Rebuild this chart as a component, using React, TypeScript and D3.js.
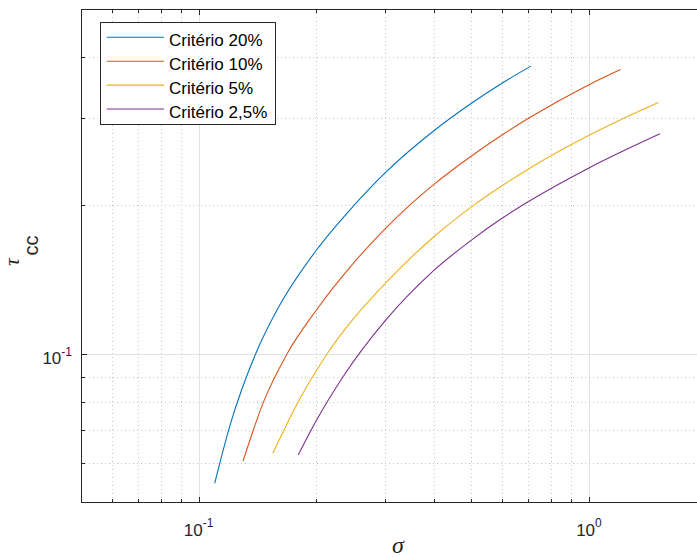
import { useEffect, useRef } from 'react';
import * as d3 from 'd3';

// σ / τcc pontos (eixos log-log)
const seriesNames = ['Critério 20%', 'Critério 10%', 'Critério 5%', 'Critério 2,5%'];
const seriesColors = ['#0072BD', '#D95319', '#EDB120', '#7E2F8E'];

const sigma20 = [0.110, 0.1206, 0.140, 0.160, 0.200, 0.2487, 0.300, 0.400, 0.500, 0.600, 0.710];
const tau20 = [0.0547, 0.072, 0.100, 0.124, 0.162, 0.199, 0.2325, 0.283, 0.322, 0.354, 0.383];

const sigma10 = [0.130, 0.1462, 0.1685, 0.200, 0.250, 0.300, 0.348, 0.400, 0.500, 0.600, 0.700, 1.000, 1.205];
const tau10 = [0.0606, 0.0794, 0.100, 0.1225, 0.1531, 0.179, 0.2004, 0.2203, 0.2518, 0.278, 0.3002, 0.3513, 0.3771];

const sigma5 = [0.155, 0.1823, 0.2133, 0.250, 0.300, 0.400, 0.505, 0.600, 0.700, 1.000, 1.220, 1.506];
const tau5 = [0.0629, 0.0815, 0.100, 0.1182, 0.1387, 0.1726, 0.1998, 0.2194, 0.237, 0.2773, 0.2996, 0.3233];

const sigma25 = [0.180, 0.200, 0.2354, 0.300, 0.400, 0.500, 0.600, 0.700, 1.000, 1.520];
const tau25 = [0.0624, 0.0731, 0.0903, 0.1165, 0.1475, 0.1701, 0.1885, 0.2036, 0.2382, 0.2793];

const sigmaSeries = [sigma20, sigma10, sigma5, sigma25];
const tauSeries = [tau20, tau10, tau5, tau25];

const xLimits = [0.05, 2];
const yLimits = [0.05, 0.5];

function Chart() {
  const svgRef = useRef<SVGSVGElement>(null);

  useEffect(() => {
    const width = 697;
    const height = 557;
    const left = 81;
    const right = 706.5;
    const top = 9;
    const bottom = 502.5;
    const font = '"Liberation Sans", Arial, Helvetica, sans-serif';
    const axisColor = '#262626';

    const svg = d3.select(svgRef.current)
      .attr('width', width)
      .attr('height', height);
    svg.selectAll('*').remove();

    const x = d3.scaleLog().domain(xLimits).range([left, right]);
    const y = d3.scaleLog().domain(yLimits).range([bottom, top]);

    const isMajor = (v: number) => Math.abs(Math.log10(v) - Math.round(Math.log10(v))) < 1e-9;
    const inside = (v: number, lim: number[]) => v > lim[0] * 1.0001 && v < lim[1] * 0.9999;

    const xTicks = x.ticks().filter(v => inside(v, xLimits));
    const yTicks = y.ticks().filter(v => inside(v, yLimits));

    svg.append('rect')
      .attr('x', 0).attr('y', 0)
      .attr('width', width).attr('height', height)
      .attr('fill', '#ffffff');

    // grade
    const grid = svg.append('g').attr('shape-rendering', 'crispEdges');
    grid.selectAll('.vgrid')
      .data(xTicks)
      .enter().append('line')
      .attr('x1', d => Math.round(x(d)) + 0.5)
      .attr('x2', d => Math.round(x(d)) + 0.5)
      .attr('y1', top)
      .attr('y2', bottom)
      .attr('stroke', d => isMajor(d) ? '#e3e3e3' : '#c4c4c4')
      .attr('stroke-width', 1)
      .attr('stroke-dasharray', d => isMajor(d) ? null : '1,3');
    grid.selectAll('.hgrid')
      .data(yTicks)
      .enter().append('line')
      .attr('y1', d => Math.round(y(d)) + 0.5)
      .attr('y2', d => Math.round(y(d)) + 0.5)
      .attr('x1', left)
      .attr('x2', right)
      .attr('stroke', d => isMajor(d) ? '#e3e3e3' : '#c4c4c4')
      .attr('stroke-width', 1)
      .attr('stroke-dasharray', d => isMajor(d) ? null : '1,3');

    // curvas
    const line = d3.line<[number, number]>()
      .x(d => x(d[0]))
      .y(d => y(d[1]))
      .curve(d3.curveMonotoneX);

    sigmaSeries.forEach((sig, i) => {
      const pts = sig.map((s, j) => [s, tauSeries[i][j]] as [number, number]);
      svg.append('path')
        .datum(pts)
        .attr('d', line)
        .attr('fill', 'none')
        .attr('stroke', seriesColors[i])
        .attr('stroke-width', 1.1);
    });

    // eixos (caixa + ticks para dentro)
    const axes = svg.append('g').attr('shape-rendering', 'crispEdges');
    axes.append('line').attr('x1', left).attr('x2', right).attr('y1', bottom).attr('y2', bottom)
      .attr('stroke', axisColor);
    axes.append('line').attr('x1', left).attr('x2', right).attr('y1', top).attr('y2', top)
      .attr('stroke', axisColor);
    axes.append('line').attr('x1', left).attr('x2', left).attr('y1', top).attr('y2', bottom)
      .attr('stroke', axisColor);
    axes.append('line').attr('x1', right).attr('x2', right).attr('y1', top).attr('y2', bottom)
      .attr('stroke', axisColor);

    const majorLen = 6;
    const minorLen = 3.5;
    xTicks.forEach(v => {
      const px = Math.round(x(v)) + 0.5;
      const len = isMajor(v) ? majorLen : minorLen;
      axes.append('line').attr('x1', px).attr('x2', px).attr('y1', bottom).attr('y2', bottom - len)
        .attr('stroke', axisColor);
      axes.append('line').attr('x1', px).attr('x2', px).attr('y1', top).attr('y2', top + len)
        .attr('stroke', axisColor);
    });
    yTicks.forEach(v => {
      const py = Math.round(y(v)) + 0.5;
      const len = isMajor(v) ? majorLen : minorLen;
      axes.append('line').attr('x1', left).attr('x2', left + len).attr('y1', py).attr('y2', py)
        .attr('stroke', axisColor);
      axes.append('line').attr('x1', right).attr('x2', right - len).attr('y1', py).attr('y2', py)
        .attr('stroke', axisColor);
    });

    // rótulos 10^n
    const majorX = xTicks.filter(isMajor);
    majorX.forEach(v => {
      const t = svg.append('text')
        .attr('x', x(v))
        .attr('y', bottom + 33.5)
        .attr('text-anchor', 'middle')
        .attr('font-family', font)
        .attr('font-size', 17)
        .attr('fill', axisColor);
      t.append('tspan').text('10');
      t.append('tspan').attr('dy', -9).attr('font-size', 12).text(String(Math.round(Math.log10(v))));
    });
    const majorY = yTicks.filter(isMajor);
    majorY.forEach(v => {
      const t = svg.append('text')
        .attr('x', 72)
        .attr('y', y(v) + 10)
        .attr('text-anchor', 'end')
        .attr('font-family', font)
        .attr('font-size', 17)
        .attr('fill', axisColor);
      t.append('tspan').text('10');
      t.append('tspan').attr('dy', -8).attr('font-size', 12).text(String(Math.round(Math.log10(v))));
    });

    // títulos dos eixos
    svg.append('text')
      .attr('x', 398)
      .attr('y', 553)
      .attr('text-anchor', 'middle')
      .attr('font-family', '"Liberation Serif", "Times New Roman", serif')
      .attr('font-style', 'italic')
      .attr('font-size', 24)
      .attr('fill', axisColor)
      .text('σ');

    svg.append('text')
      .attr('transform', 'translate(19,262) rotate(-90)')
      .attr('text-anchor', 'middle')
      .attr('font-family', '"Liberation Serif", "Times New Roman", serif')
      .attr('font-style', 'italic')
      .attr('font-size', 22)
      .attr('fill', axisColor)
      .text('τ');
    svg.append('text')
      .attr('transform', 'translate(37.5,245.5) rotate(-90)')
      .attr('text-anchor', 'middle')
      .attr('font-family', font)
      .attr('font-size', 20)
      .attr('fill', axisColor)
      .text('cc');

    // legenda
    const legend = svg.append('g');
    legend.append('rect')
      .attr('x', 100.5).attr('y', 22.5)
      .attr('width', 174.5).attr('height', 101.5)
      .attr('fill', '#ffffff')
      .attr('stroke', axisColor)
      .attr('stroke-width', 1)
      .attr('shape-rendering', 'crispEdges');
    seriesNames.forEach((name, i) => {
      const ry = 37.3 + i * 23.9;
      legend.append('line')
        .attr('x1', 106.7).attr('x2', 164)
        .attr('y1', ry).attr('y2', ry)
        .attr('stroke', seriesColors[i])
        .attr('stroke-width', 1.1);
      legend.append('text')
        .attr('x', 169)
        .attr('y', ry + 8.7)
        .attr('font-family', font)
        .attr('font-size', 17)
        .attr('fill', '#000000')
        .text(name);
    });

    return () => {
      svg.selectAll('*').remove();
    };
  }, []);

  return <svg ref={svgRef} style={{ position: 'absolute', left: 0, top: 0 }}></svg>;
}

export default function App() {
  return <Chart />;
}
